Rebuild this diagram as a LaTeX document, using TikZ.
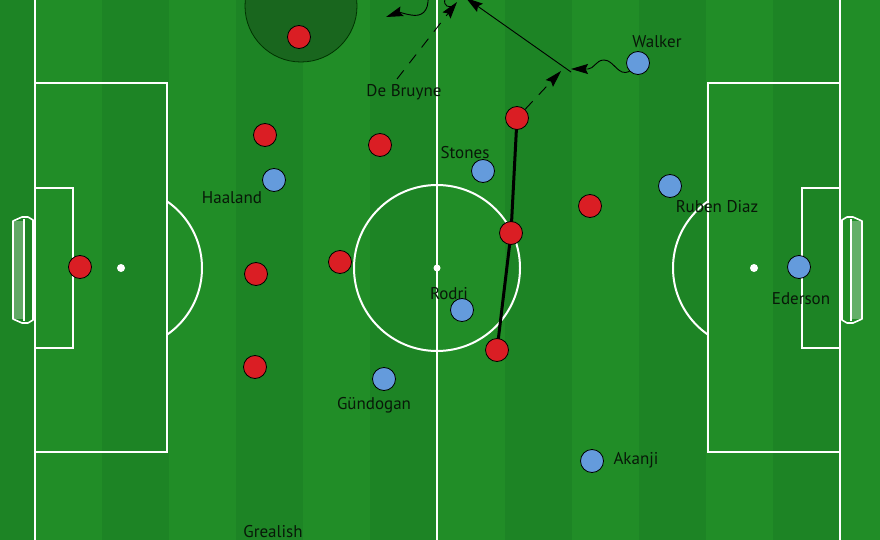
\documentclass[tikz,border=0pt]{standalone}
\usepackage{fontspec}
\setmainfont{PT Sans}
\usetikzlibrary{arrows.meta}
\definecolor{gl}{RGB}{33,141,39}
\definecolor{gd}{RGB}{29,132,37}
\definecolor{dz}{RGB}{25,102,30}
\definecolor{pred}{RGB}{218,30,36}
\definecolor{pblue}{RGB}{100,155,220}
\definecolor{lbl}{RGB}{8,24,8}
\pgfdeclarelayer{bg}\pgfdeclarelayer{mid}\pgfsetlayers{bg,mid,main}
\tikzset{mvtip/.tip={Stealth[length=17pt,width=10pt,inset=2.5pt]}}
\begin{document}
\begin{tikzpicture}[x=1pt,y=-1pt,
  redp/.style={circle,draw=black,line width=0.8pt,fill=pred,minimum size=23pt,inner sep=0pt},
  bluep/.style={circle,draw=black,line width=0.8pt,fill=pblue,minimum size=23pt,inner sep=0pt},
  lab/.style={text=lbl,font=\fontsize{17}{20}\selectfont,inner sep=0pt,anchor=base},
  pline/.style={white,line width=2pt},
  mv/.style={draw=black,line width=0.9pt,-mvtip},
  dsh/.style={dash pattern=on 11pt off 9pt}]
\useasboundingbox (0,0) rectangle (880,540);
\begin{pgfonlayer}{bg}
  % stripes
  \fill[gd] (0,0) rectangle (35,540);
  \foreach \i in {0,...,11}{
    \pgfmathsetmacro{\xa}{35+\i*67.083}
    \pgfmathsetmacro{\xb}{35+(\i+1)*67.083}
    \pgfmathparse{mod(\i,2)==0?1:0}
    \ifnum\pgfmathresult=1 \fill[gl] (\xa,0) rectangle (\xb,540);
    \else \fill[gd] (\xa,0) rectangle (\xb,540); \fi
  }
  \fill[gl] (840,0) rectangle (880,540);
  % markings
  \draw[pline] (35,-5) -- (35,545);
  \draw[pline] (840,-5) -- (840,545);
  \draw[pline] (437,-5) -- (437,545);
  \draw[pline] (437,268) circle[radius=83pt];
  \fill[white] (437,268) circle[radius=3.5pt];
  \draw[pline] (35,83) rectangle (167,452);
  \draw[pline] (35,188) rectangle (73,348);
  \fill[white] (121,268) circle[radius=4pt];
  \begin{scope}\clip (167,0) rectangle (300,540);
    \draw[pline] (121,268) circle[radius=81pt];
  \end{scope}
  \draw[pline] (708,83) rectangle (840,452);
  \draw[pline] (802,188) rectangle (840,348);
  \fill[white] (754,268) circle[radius=4pt];
  \begin{scope}\clip (580,0) rectangle (708,540);
    \draw[pline] (754,268) circle[radius=81pt];
  \end{scope}
  % goals
  \fill[white,opacity=0.3] (13,221) rectangle (24,319);
  \draw[white,line width=1.6pt,line join=round] (13,221) -- (22,217) -- (28,217) -- (33,220) -- (33,320) -- (28,323) -- (22,323) -- (13,319) -- cycle;
  \draw[white,line width=1.4pt] (24,219) -- (24,321);
  \fill[white,opacity=0.3] (862,221) rectangle (851,319);
  \draw[white,line width=1.6pt,line join=round] (862,221) -- (853,217) -- (847,217) -- (842,220) -- (842,320) -- (847,323) -- (853,323) -- (862,319) -- cycle;
  \draw[white,line width=1.4pt] (851,219) -- (851,321);
  % pressing zone
  \draw[fill=dz,draw=black!80!green,line width=0.8pt] (301,6) circle[radius=56pt];
\end{pgfonlayer}

% red players
\node[redp] (r1) at (299,37) {};
\node[redp] (r2) at (265,135) {};
\node[redp] (r3) at (380,145) {};
\node[redp] (r4) at (517,118) {};
\node[redp] (r5) at (511,233) {};
\node[redp] (r6) at (497,350) {};
\node[redp] (r7) at (590,206) {};
\node[redp] (r8) at (80,267) {};
\node[redp] (r9) at (256,274) {};
\node[redp] (r10) at (340,262) {};
\node[redp] (r11) at (255,367) {};
% blue players
\node[bluep] (wk) at (638,63) {};
\node[bluep] (ha) at (274,180) {};
\node[bluep] (st) at (483,171) {};
\node[bluep] (rd) at (670,186) {};
\node[bluep] (ed) at (799,267) {};
\node[bluep] (ro) at (462,310) {};
\node[bluep] (gu) at (384,379) {};
\node[bluep] (ak) at (592,461) {};
% labels
\node[lab] (lwk) at (657,48) {Walker};
\node[lab] (ldb) at (404,97) {De Bruyne};
\node[lab] (lst) at (465,159) {Stones};
\node[lab] (lha) at (232,204) {Haaland};
\node[lab] (lrd) at (717,212) {Ruben Diaz};
\node[lab] (led) at (801,304) {Ederson};
\node[lab] (lro) at (449,299) {Rodri};
\node[lab] (lgu) at (374,409) {Gündogan};
\node[lab] (lak) at (636,464) {Akanji};
\node[lab] (lgr) at (273,537) {Grealish};

% defensive line
\begin{pgfonlayer}{mid}
  \draw[black,line width=3pt,line join=round] (r4.center) -- (r5.center) -- (r6.center);
\end{pgfonlayer}

% movements
\coordinate (dbs) at (397,79);
\coordinate (dbe) at (457,2);
\draw[mv,dsh] (dbs) -- (dbe);
\coordinate (w1s) at (428,-3);
\coordinate (w1e) at (386,17);
\draw[mv] (w1s) .. controls (429,12) and (421,17) .. (411,15) .. controls (404,14) and (400,12) .. (w1e);
\draw[black,line width=0.9pt] (445,-1) .. controls (443,6) and (449,9) .. (455,5);
\coordinate (ks) at (571,72);
\coordinate (ke) at (466,-2);
\draw[mv] (ks) -- (ke);
\coordinate (cp) at (561,71);
\draw[mv,dsh] (r4) -- (cp);
\coordinate (w2e) at (571,69);
\draw[mv] (wk.south west) .. controls (618,77) and (614,60) .. (604,60) .. controls (596,60) and (594,69) .. (588,69) -- (w2e);
\end{tikzpicture}
\end{document}
